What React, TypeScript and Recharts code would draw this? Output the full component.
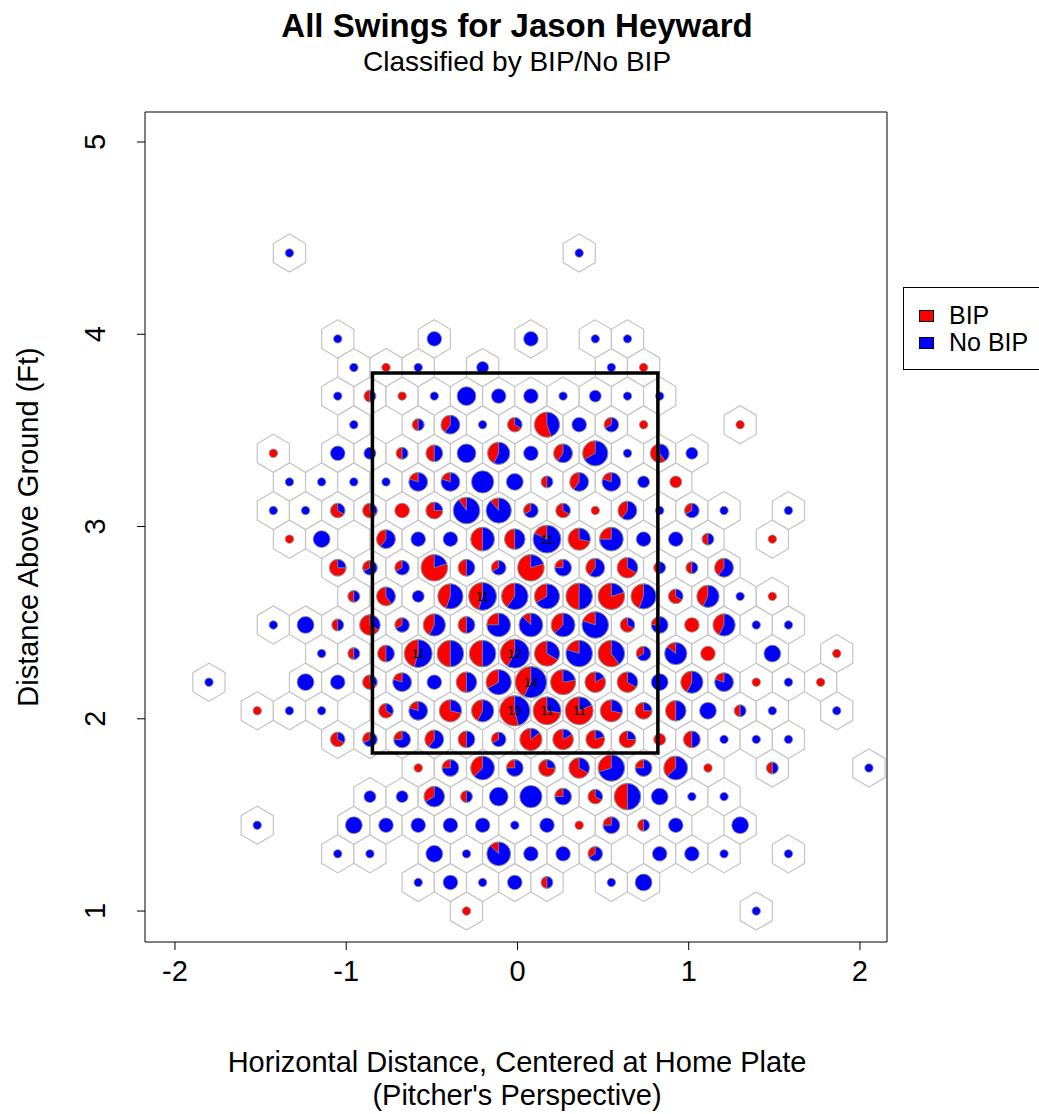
import React from "react";
import { Legend, ReferenceArea, Scatter, ScatterChart, XAxis, YAxis } from "recharts";

// axis limits and ticks
const xDomain: [number, number] = [-2.175, 2.158];
const yDomain: [number, number] = [0.839, 5.156];
const xTicks = [-2, -1, 0, 1, 2];
const yTicks = [1, 2, 3, 4, 5];

// hexbin grid (bin centres): row 0 sits at y = 1.0, odd rows shifted half a bin
const HEX_X0 = -1.8015;
const HEX_DX = 0.188;
const HEX_Y0 = 1.0;
const HEX_DY = 0.1488;

// one list per hex row, bottom to top: [column, swings, balls in play]
const row0 = [[8, 1, 1], [17, 1, 0]];
const row1 = [[6, 1, 0], [7, 3, 0], [8, 1, 0], [9, 3, 0], [10, 2, 1], [12, 1, 0], [13, 4, 0]];
const row2 = [[4, 1, 0], [5, 1, 0], [7, 4, 0], [8, 1, 0], [9, 8, 1], [10, 3, 0], [11, 3, 0], [12, 3, 1], [14, 3, 0], [15, 3, 0], [16, 1, 0], [18, 1, 0]];
const row3 = [[1, 1, 0], [4, 4, 0], [5, 3, 0], [6, 3, 0], [7, 3, 0], [8, 3, 0], [9, 1, 0], [10, 3, 0], [11, 1, 1], [12, 4, 1], [13, 2, 1], [14, 3, 0], [16, 4, 0]];
const row4 = [[5, 2, 0], [6, 2, 0], [7, 6, 2], [8, 2, 1], [9, 5, 0], [10, 7, 0], [11, 4, 1], [12, 3, 2], [13, 10, 5], [14, 4, 0], [15, 1, 0], [16, 1, 0]];
const row5 = [[6, 1, 1], [7, 4, 1], [8, 8, 3], [9, 4, 1], [10, 4, 3], [11, 6, 4], [12, 10, 3], [13, 4, 1], [14, 8, 3], [15, 1, 1], [17, 2, 1], [20, 1, 0]];
const row6 = [[4, 3, 2], [5, 3, 1], [6, 4, 1], [7, 5, 2], [8, 4, 2], [9, 3, 1], [10, 7, 6], [11, 6, 5], [12, 5, 4], [13, 4, 3], [14, 2, 2], [15, 4, 2], [16, 1, 0], [17, 1, 0], [18, 1, 0]];
const row7 = [[1, 1, 1], [2, 1, 0], [3, 1, 0], [5, 3, 2], [6, 5, 1], [7, 7, 5], [8, 7, 3], [9, 13, 7], [10, 11, 8], [11, 11, 9], [12, 7, 5], [13, 4, 3], [14, 6, 3], [15, 4, 0], [16, 2, 1], [17, 1, 0], [19, 1, 0]];
const row8 = [[0, 1, 0], [3, 4, 0], [4, 3, 0], [5, 3, 2], [6, 5, 1], [7, 3, 0], [8, 6, 3], [9, 9, 3], [10, 14, 6], [11, 9, 7], [12, 6, 5], [13, 6, 4], [14, 4, 0], [15, 7, 3], [16, 5, 1], [17, 1, 1], [18, 1, 0], [19, 1, 1]];
const row9 = [[3, 1, 0], [4, 2, 1], [5, 4, 2], [6, 11, 5], [7, 10, 5], [8, 10, 5], [9, 12, 5], [10, 9, 6], [11, 10, 2], [12, 10, 6], [13, 3, 1], [14, 7, 1], [15, 3, 3], [17, 4, 0], [19, 1, 1]];
const row10 = [[2, 1, 0], [3, 4, 0], [4, 2, 1], [5, 6, 4], [6, 3, 1], [7, 7, 3], [8, 4, 2], [9, 8, 2], [10, 8, 1], [11, 8, 3], [12, 10, 2], [13, 3, 2], [14, 4, 1], [15, 3, 3], [16, 7, 3], [17, 1, 0], [18, 1, 0]];
const row11 = [[4, 2, 1], [5, 5, 3], [6, 2, 0], [7, 9, 4], [8, 11, 5], [9, 10, 4], [10, 9, 3], [11, 10, 5], [12, 10, 8], [13, 9, 4], [14, 3, 2], [15, 7, 3], [16, 1, 0], [17, 1, 1]];
const row12 = [[4, 4, 3], [5, 3, 1], [6, 3, 1], [7, 10, 8], [8, 4, 2], [9, 3, 1], [10, 10, 8], [11, 4, 1], [12, 5, 2], [13, 6, 4], [14, 2, 1], [15, 2, 1], [16, 5, 2]];
const row13 = [[2, 1, 1], [3, 4, 0], [5, 5, 2], [6, 3, 0], [7, 3, 0], [8, 8, 4], [9, 6, 3], [10, 11, 2], [11, 7, 5], [12, 8, 2], [13, 3, 0], [14, 3, 0], [15, 2, 1], [17, 1, 1]];
const row14 = [[2, 1, 0], [3, 1, 0], [4, 3, 2], [5, 3, 2], [6, 3, 3], [7, 4, 3], [8, 10, 1], [9, 9, 1], [10, 3, 1], [11, 3, 2], [12, 1, 1], [13, 5, 2], [14, 1, 0], [15, 3, 1], [16, 1, 0], [18, 1, 0]];
const row15 = [[2, 1, 0], [3, 1, 0], [4, 1, 0], [5, 1, 0], [6, 5, 1], [7, 5, 1], [8, 7, 0], [9, 4, 0], [10, 2, 1], [11, 5, 2], [12, 5, 1], [13, 2, 0], [14, 2, 2]];
const row16 = [[2, 1, 1], [4, 3, 0], [5, 2, 0], [6, 2, 1], [7, 4, 2], [8, 5, 0], [9, 7, 3], [10, 3, 0], [11, 5, 2], [12, 9, 3], [13, 1, 0], [14, 5, 3], [15, 2, 0]];
const row17 = [[4, 1, 0], [6, 2, 1], [7, 5, 2], [8, 1, 0], [9, 3, 2], [10, 9, 5], [11, 3, 0], [12, 3, 1], [13, 1, 1], [16, 1, 1]];
const row18 = [[4, 1, 0], [5, 2, 1], [6, 1, 1], [7, 1, 0], [8, 5, 0], [9, 3, 0], [10, 3, 0], [11, 1, 0], [12, 2, 0], [13, 1, 0], [14, 1, 0]];
const row19 = [[4, 1, 0], [5, 1, 1], [6, 1, 0], [8, 2, 0], [12, 1, 0], [13, 1, 1]];
const row20 = [[4, 1, 0], [7, 3, 0], [10, 3, 0], [12, 1, 0], [13, 1, 0]];
const row21: number[][] = [];
const row22: number[][] = [];
const row23 = [[2, 1, 0], [11, 1, 0]];

const hexRows = [
  row0, row1, row2, row3, row4, row5, row6, row7, row8, row9, row10, row11,
  row12, row13, row14, row15, row16, row17, row18, row19, row20, row21, row22, row23,
];

// strike zone edges
const zoneX = [-0.847, 0.82];
const zoneY = [1.822, 3.798];

const legendItems = [
  { label: "BIP", color: "#ff0000" },
  { label: "No BIP", color: "#0000ff" },
];

const W = 1039;
const H = 1114;
const PLOT_L = 145;
const PLOT_T = 112;
const PLOT_W = 742;
const PLOT_H = 830;
const PX_X = PLOT_W / (xDomain[1] - xDomain[0]);
const PX_Y = PLOT_H / (yDomain[1] - yDomain[0]);
const HEX_HW = (HEX_DX / 2) * PX_X;
const HEX_S = ((HEX_DY * 2) / 3) * PX_Y;
const FONT = "Liberation Sans, Arial, Helvetica, sans-serif";
const FS = 29;

type Cell = { x: number; y: number; n: number; bip: number };

const cells: Cell[] = hexRows.flatMap((row, r) =>
  row.map(([c, n, bip]) => ({
    x: HEX_X0 + (c + (r % 2) * 0.5) * HEX_DX,
    y: HEX_Y0 + r * HEX_DY,
    n,
    bip,
  }))
);

const zoneCorners = [
  { x: zoneX[0], y: zoneY[0] },
  { x: zoneX[0], y: zoneY[1] },
  { x: zoneX[1], y: zoneY[1] },
  { x: zoneX[1], y: zoneY[0] },
  { x: zoneX[0], y: zoneY[0] },
];

function Hexagon({ cx, cy }: any) {
  const pts = [
    [0, -HEX_S],
    [HEX_HW, -HEX_S / 2],
    [HEX_HW, HEX_S / 2],
    [0, HEX_S],
    [-HEX_HW, HEX_S / 2],
    [-HEX_HW, -HEX_S / 2],
  ]
    .map(([dx, dy]) => `${cx + dx},${cy + dy}`)
    .join(" ");
  return <polygon points={pts} fill="#fff" stroke="#c4c4c4" strokeWidth={1.2} />;
}

function pt(cx: number, cy: number, r: number, deg: number) {
  const a = (deg * Math.PI) / 180;
  return `${cx + r * Math.cos(a)},${cy - r * Math.sin(a)}`;
}

function wedge(cx: number, cy: number, r: number, from: number, to: number) {
  const large = to - from > 180 ? 1 : 0;
  return `M${cx},${cy} L${pt(cx, cy, r, from)} A${r},${r} 0 ${large} 0 ${pt(cx, cy, r, to)} Z`;
}

function HexPie({ cx, cy, payload }: any) {
  const { n, bip } = payload as Cell;
  const r = 4.2 * Math.sqrt(n);
  const f = bip / n;
  const end = 90 + 360 * f;
  return (
    <g>
      {f <= 0 || f >= 1 ? (
        <circle cx={cx} cy={cy} r={r} fill={f >= 1 ? "#ff0000" : "#0000ff"} />
      ) : (
        <>
          <path d={wedge(cx, cy, r, 90, end)} fill="#ff0000" stroke="#8a8a8a" strokeWidth={0.6} />
          <path d={wedge(cx, cy, r, end, 450)} fill="#0000ff" stroke="#8a8a8a" strokeWidth={0.6} />
        </>
      )}
      <circle cx={cx} cy={cy} r={r} fill="none" stroke="#8a8a8a" strokeWidth={0.8} />
      {n >= 11 && (
        <text x={cx} y={cy + 4.5} textAnchor="middle" fontSize={13} fontFamily={FONT} fill="#000">
          {n}
        </text>
      )}
    </g>
  );
}

function XTick({ x, payload }: any) {
  return (
    <text x={x} y={981} textAnchor="middle" fontSize={FS} fontFamily={FONT} fill="#000">
      {payload.value}
    </text>
  );
}

function YTick({ y, payload }: any) {
  return (
    <text
      transform={`translate(105,${y}) rotate(-90)`}
      textAnchor="middle"
      fontSize={FS}
      fontFamily={FONT}
      fill="#000"
    >
      {payload.value}
    </text>
  );
}

function LegendBox() {
  return (
    <div
      style={{
        border: "1px solid #000",
        background: "#fff",
        padding: "14px 10px 13px 15px",
        fontFamily: FONT,
        fontSize: 25,
        lineHeight: "27px",
        width: 200,
        boxSizing: "border-box",
      }}
    >
      {legendItems.map((it) => (
        <div key={it.label} style={{ display: "flex", alignItems: "center" }}>
          <span
            style={{
              display: "inline-block",
              width: 13,
              height: 10,
              background: it.color,
              border: "1.5px solid #000",
              marginRight: 15,
            }}
          />
          {it.label}
        </div>
      ))}
    </div>
  );
}

export default function App() {
  return (
    <div style={{ position: "absolute", left: 0, top: 0, width: W, height: H, background: "#fff", overflow: "hidden" }}>
      <ScatterChart
        width={W}
        height={H}
        margin={{ top: PLOT_T, right: W - PLOT_L - PLOT_W, bottom: H - PLOT_T - PLOT_H - 60, left: PLOT_L - 60 }}
      >
        <XAxis
          type="number"
          dataKey="x"
          domain={xDomain}
          ticks={xTicks}
          allowDataOverflow
          axisLine={false}
          tickLine={{ stroke: "#000" }}
          tickSize={8}
          height={60}
          tick={<XTick />}
          interval={0}
        />
        <YAxis
          type="number"
          dataKey="y"
          domain={yDomain}
          ticks={yTicks}
          allowDataOverflow
          axisLine={false}
          tickLine={{ stroke: "#000" }}
          tickSize={8}
          width={60}
          tick={<YTick />}
          interval={0}
        />
        <ReferenceArea
          x1={xDomain[0]}
          x2={xDomain[1]}
          y1={yDomain[0]}
          y2={yDomain[1]}
          fill="none"
          stroke="#000"
          strokeWidth={1}
          ifOverflow="visible"
        />
        <Scatter data={cells} shape={<Hexagon />} isAnimationActive={false} />
        <Scatter data={cells} shape={<HexPie />} isAnimationActive={false} />
        <Scatter
          data={zoneCorners}
          line={{ stroke: "#000", strokeWidth: 3.5, strokeLinecap: "square", strokeLinejoin: "miter" }}
          lineType="joint"
          shape={() => <g />}
          isAnimationActive={false}
        />
        <Legend
          layout="vertical"
          align="center"
          verticalAlign="middle"
          content={() => <LegendBox />}
          wrapperStyle={{ left: 903, top: 287, width: 200 }}
        />
        <text x={517} y={37} textAnchor="middle" fontSize={33} fontWeight="bold" fontFamily={FONT} fill="#000">
          All Swings for Jason Heyward
        </text>
        <text x={517} y={71} textAnchor="middle" fontSize={28} fontFamily={FONT} fill="#000">
          Classified by BIP/No BIP
        </text>
        <text x={517} y={1072} textAnchor="middle" fontSize={FS} fontFamily={FONT} fill="#000">
          Horizontal Distance, Centered at Home Plate
        </text>
        <text x={517} y={1105} textAnchor="middle" fontSize={FS} fontFamily={FONT} fill="#000">
          (Pitcher's Perspective)
        </text>
        <text
          transform="translate(38,527) rotate(-90)"
          textAnchor="middle"
          fontSize={FS}
          fontFamily={FONT}
          fill="#000"
        >
          Distance Above Ground (Ft)
        </text>
      </ScatterChart>
    </div>
  );
}
